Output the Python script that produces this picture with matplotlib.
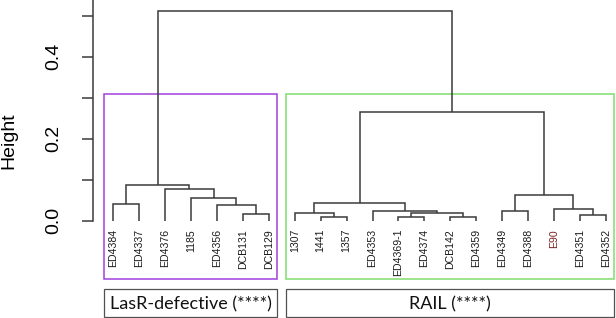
import matplotlib
matplotlib.use("Agg")
import matplotlib.pyplot as plt
from matplotlib.patches import Rectangle

# leaf order as drawn
labels = ["ED4384", "ED4337", "ED4376", "1185", "ED4356", "DCB131", "DCB129",
          "1307", "1441", "1357", "ED4353", "ED4369-1", "ED4374", "DCB142",
          "ED4359", "ED4349", "ED4388", "E90", "ED4351", "ED4352"]
# merges: (left, right, height); ints >= 0 refer to earlier merges, str to leaves
merges = [
    ("ED4384", "ED4337", 0.041),   # 0
    ("DCB131", "DCB129", 0.017),   # 1
    ("ED4356", 1, 0.039),          # 2
    ("1185", 2, 0.055),            # 3
    ("ED4376", 3, 0.078),          # 4
    (0, 4, 0.086),                 # 5  LasR-defective
    ("1441", "1357", 0.009),       # 6
    ("1307", 6, 0.0195),           # 7
    ("ED4369-1", "ED4374", 0.009), # 8
    ("DCB142", "ED4359", 0.0095),  # 9
    (8, 9, 0.018),                 # 10
    ("ED4353", 10, 0.0245),        # 11
    (7, 11, 0.042),                # 12
    ("ED4349", "ED4388", 0.023),   # 13
    ("ED4351", "ED4352", 0.014),   # 14
    ("E90", 14, 0.0285),           # 15
    (13, 15, 0.063),               # 16
    (12, 16, 0.266),               # 17 RAIL
    (5, 17, 0.512),                # 18 root
]
groups = ["LasR-defective (****)", "RAIL (****)"]
group_sizes = [7, 13]
highlight = {"E90": "#7c2323"}
box_colors = ["#a040dc", "#80dc70"]

line_col = "#3a3a3a"
fig = plt.figure(figsize=(6.16, 3.18), dpi=100)
ax = fig.add_axes([93 / 616, 0, 523 / 616, 1])
ax.set_xlim(0.217, 20.394)
ax.set_ylim(-0.2373, 0.5383)

# dendrogram
xpos = {lab: i + 1 for i, lab in enumerate(labels)}
node = []
def coord(c):
    if isinstance(c, str):
        return xpos[c], 0.0
    return node[c]

for a, b, h in merges:
    xa, ya = coord(a)
    xb, yb = coord(b)
    ax.plot([xa, xa, xb, xb], [ya, h, h, yb], color=line_col, lw=1.1,
            solid_joinstyle="miter", solid_capstyle="butt")
    node.append(((xa + xb) / 2, h))

for lab in labels:
    ax.text(xpos[lab], -0.02, lab, rotation=90, ha="center", va="top",
            fontsize=7.6, family="Liberation Sans",
            color=highlight.get(lab, "#1a1a1a"))

# cluster rectangles and group label boxes
start = 0
for g, n, col in zip(groups, group_sizes, box_colors):
    x0 = start + 0.66
    x1 = start + n + 0.33
    ax.add_patch(Rectangle((x0, -0.1415), x1 - x0, 0.308 + 0.1415,
                           fill=False, ec=col, lw=1.1, clip_on=False))
    ax.add_patch(Rectangle((x0, -0.2356), x1 - x0, 0.2356 - 0.1673,
                           fill=False, ec="#505050", lw=0.9, clip_on=False))
    ax.text((x0 + x1) / 2, -0.2035, g, ha="center", va="center",
            fontsize=13, family="Lato", color="#111111")
    start += n

# y axis, R style
for s in ["top", "right", "bottom"]:
    ax.spines[s].set_visible(False)
ax.spines["left"].set_bounds(0, 0.5383)
ax.spines["left"].set_color(line_col)
ax.spines["left"].set_linewidth(1.1)
ax.set_xticks([])
ax.set_yticks([0, 0.1, 0.2, 0.3, 0.4, 0.5])
ax.set_yticklabels(["0.0", "", "0.2", "", "0.4", ""], rotation=90,
                   va="center", fontsize=14, family="Liberation Sans")
ax.tick_params(axis="y", length=8, width=1.1, color=line_col, pad=14)
ax.patch.set_visible(False)

fig.text(9 / 616, 1 - 141 / 318, "Height", rotation=90, ha="center",
         va="center", fontsize=14, family="Liberation Sans")

fig.savefig("out.png", dpi=100)
